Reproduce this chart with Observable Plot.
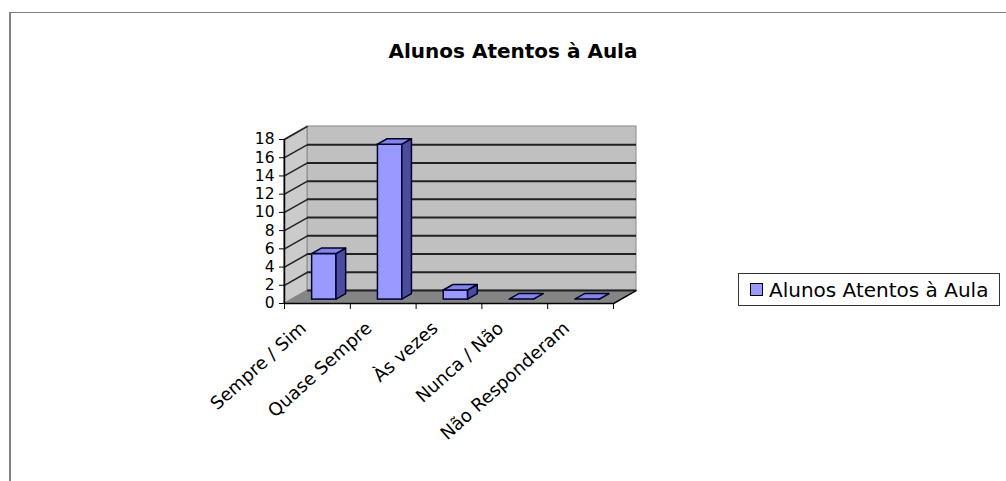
<!DOCTYPE html>
<html>
<head>
<meta charset="utf-8">
<script src="https://cdn.jsdelivr.net/npm/d3@7"></script>
<script src="https://cdn.jsdelivr.net/npm/@observablehq/plot@0.6"></script>
<style>
  html, body { margin: 0; padding: 0; background: #fff; }
  #chart { position: relative; width: 1006px; height: 481px; overflow: hidden; font-family: "DejaVu Sans", sans-serif; }
  #chart svg { position: absolute; left: 0; top: 0; }
  .frame { position: absolute; left: 9px; top: 12px; right: -2px; bottom: -2px;
           border-top: 1px solid #808080; border-left: 2px solid #808080; }
  .title { position: absolute; left: 0; width: 1026px; top: 39px; text-align: center;
           font: bold 20px "DejaVu Sans", sans-serif; color: #000; }
  .legend { position: absolute; left: 738px; top: 273px; width: 262px; height: 33px;
            border: 1px solid #333; box-sizing: border-box; background: #fff;
            display: flex; align-items: center; font: 20px "DejaVu Sans", sans-serif; color: #000; }
  .legend .swatch { width: 11px; height: 11px; margin: 0 6px 0 11px; background: #9999ff; border: 1px solid #000; }
</style>
</head>
<body>
<div id="chart">
  <div class="frame"></div>
</div>
<script>
// Responses to "Alunos Atentos à Aula"
const categories = ["Sempre / Sim", "Quase Sempre", "Às vezes", "Nunca / Não", "Não Responderam"];
const values = [5, 17, 1, 0, 0];
const seriesName = "Alunos Atentos à Aula";
const yTicks = [0, 2, 4, 6, 8, 10, 12, 14, 16, 18];

// 3D look: depth of the box expressed in scale units
const n = categories.length;
const yMax = yTicks[yTicks.length - 1];
const D = 0.35;   // depth along x
const H = 1.43;   // depth along y
const bw = 0.37;  // bar width (fraction of a category slot)
const f0 = 0.3;   // bar front plane, fraction of depth
const fb = 0.42;  // bar thickness, fraction of depth

const bars = categories.map((c, i) => {
  const xl = i + 0.5 - bw / 2 + f0 * D;
  const xr = xl + bw;
  const y0 = f0 * H;
  return {c, i, v: values[i], xl, xr, y0};
});

const sideFaces = bars.flatMap(b => [
  {bar: b.i, x: b.xr, y1: b.y0, y2: b.v + b.y0},
  {bar: b.i, x: b.xr + fb * D, y1: b.y0 + fb * H, y2: b.v + b.y0 + fb * H}
]);
const topFaces = bars.flatMap(b => [
  {bar: b.i, y: b.v + b.y0, x1: b.xl, x2: b.xr},
  {bar: b.i, y: b.v + b.y0 + fb * H, x1: b.xl + fb * D, x2: b.xr + fb * D}
]);

const leftWall = [{x: 0, y1: 0, y2: yMax}, {x: D, y1: H, y2: yMax + H}];
const floor = [{y: 0, x1: 0, x2: n}, {y: H, x1: D, x2: n + D}];
const boundaries = d3.range(n + 1);

const barStroke = "#000030";

const plot = Plot.plot({
  width: 1006,
  height: 481,
  marginLeft: 284,
  marginRight: 393,
  marginTop: 139,
  marginBottom: 178,
  style: {fontFamily: "DejaVu Sans", background: "transparent", color: "#000"},
  x: {type: "linear", domain: [0, n], axis: null},
  y: {type: "linear", domain: [0, yMax], axis: null},
  marks: [
    // back wall
    Plot.rect([0], {x1: D, x2: n + D, y1: H, y2: yMax + H, fill: "#c0c0c0", stroke: "#8a8a8a", strokeWidth: 1}),
    // left wall
    Plot.areaY(leftWall, {x: "x", y1: "y1", y2: "y2", fill: "#cbcbcb", stroke: "#8a8a8a", strokeWidth: 1}),
    // floor
    Plot.areaX(floor, {y: "y", x1: "x1", x2: "x2", fill: "#858585"}),
    // gridlines on the back wall
    Plot.ruleY(yTicks.slice(0, -1), {y: d => d + H, x1: D, x2: n + D, stroke: "#222", strokeWidth: 2}),
    // gridlines across the left wall
    Plot.link(yTicks.slice(1), {x1: 0, y1: d => d, x2: D, y2: d => d + H, stroke: "#222", strokeWidth: 1.5}),
    // bars: front, side, top faces
    Plot.rect(bars, {x1: "xl", x2: "xr", y1: "y0", y2: d => d.v + d.y0, fill: "#9999ff", stroke: barStroke, strokeWidth: 1.5}),
    Plot.areaY(sideFaces, {x: "x", y1: "y1", y2: "y2", z: "bar", fill: "#4c4c9c", stroke: barStroke, strokeWidth: 1.5}),
    Plot.areaX(topFaces, {y: "y", x1: "x1", x2: "x2", z: "bar", fill: "#8585e6", stroke: barStroke, strokeWidth: 1.5}),
    // front axis lines and floor edge
    Plot.ruleX([0], {y1: 0, y2: yMax, stroke: "#000", strokeWidth: 1.5}),
    Plot.ruleY([0], {x1: 0, x2: n, stroke: "#000", strokeWidth: 1.5}),
    Plot.link([n], {x1: d => d, y1: 0, x2: d => d + D, y2: H, stroke: "#000", strokeWidth: 1.5}),
    // axes
    Plot.axisY({ticks: yTicks, tickSize: 5, tickPadding: 5, fontSize: 15.5, stroke: "#000"}),
    Plot.axisX({ticks: boundaries, tickSize: 6, tickFormat: () => "", stroke: "#000"}),
    Plot.text(categories, {
      x: (d, i) => i + 0.5, y: 0, text: d => d,
      rotate: -42, textAnchor: "end", lineAnchor: "middle",
      dx: -14, dy: 22, fontSize: 18, fill: "#000"
    })
  ]
});

const chart = document.getElementById("chart");
chart.appendChild(plot);

const title = document.createElement("div");
title.className = "title";
title.textContent = seriesName;
chart.appendChild(title);

const legend = document.createElement("div");
legend.className = "legend";
legend.innerHTML = `<span class="swatch"></span><span></span>`;
legend.lastChild.textContent = seriesName;
chart.appendChild(legend);
</script>
</body>
</html>
